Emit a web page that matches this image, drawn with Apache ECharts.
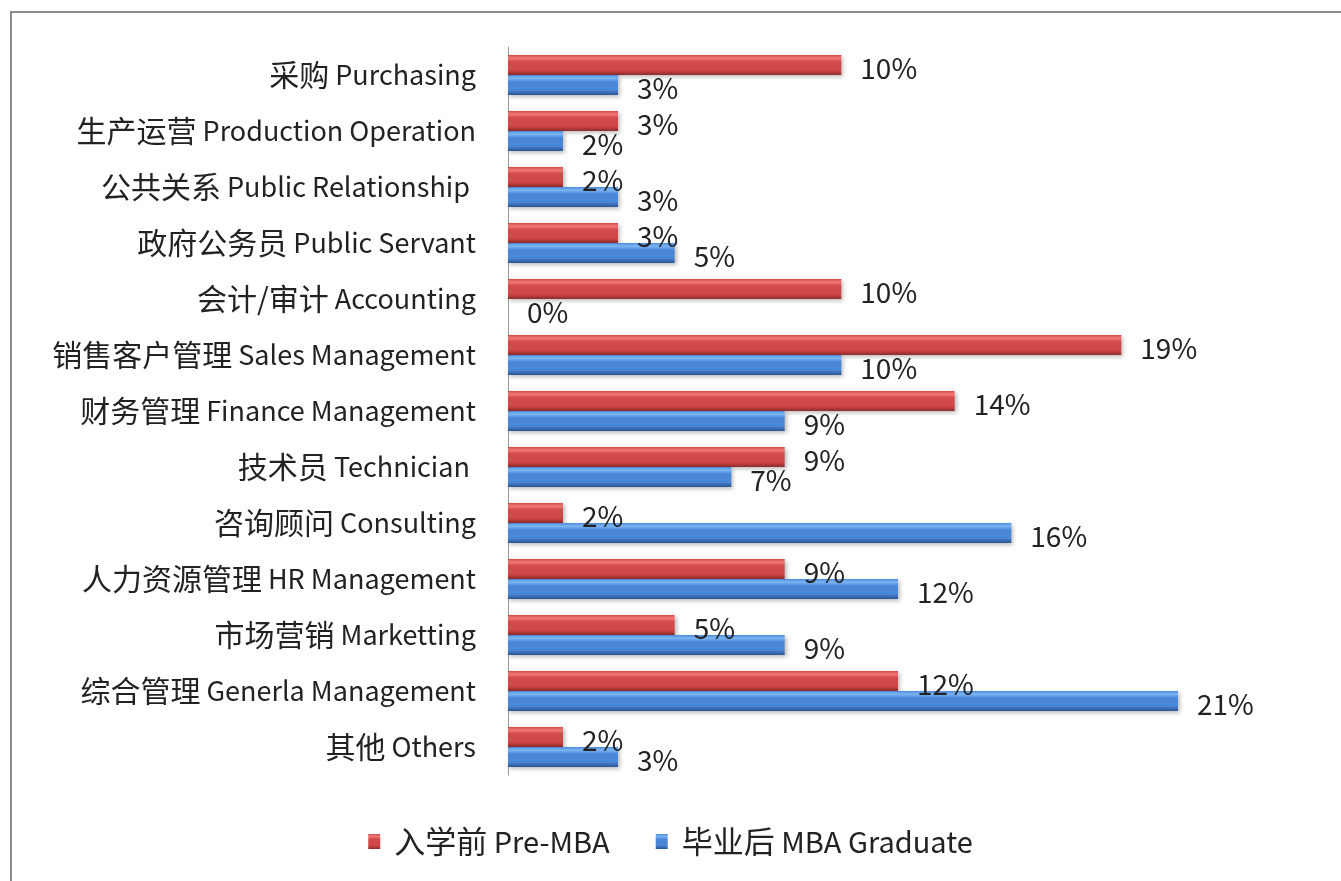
<!DOCTYPE html>
<html>
<head>
<meta charset="utf-8">
<script src="https://cdn.jsdelivr.net/npm/echarts@6/dist/echarts.min.js"></script>
<style>
    html, body { margin: 0; padding: 0; background: #fff; }
    .frame {
        position: absolute; left: 10px; top: 11px; width: 1340px; height: 880px;
        border-left: 2px solid #8a8a8a; border-top: 2px solid #8a8a8a;
        box-sizing: border-box;
    }
    #chart { width: 1341px; height: 881px; }
</style>
</head>
<body>
<div class="frame"></div>
<div id="chart"></div>
<script>
    var categories = [
        '采购 Purchasing',
        '生产运营 Production Operation',
        '公共关系 Public Relationship ',
        '政府公务员 Public Servant',
        '会计/审计 Accounting',
        '销售客户管理 Sales Management',
        '财务管理 Finance Management',
        '技术员 Technician ',
        '咨询顾问 Consulting',
        '人力资源管理 HR Management',
        '市场营销 Marketting',
        '综合管理 Generla Management',
        '其他 Others'
    ];
    // bar lengths (label text is kept apart, it is rounded)
    var preValues = [10.0, 3.3, 1.65, 3.3, 10.0, 18.4, 13.4, 8.3, 1.65, 8.3, 5.0, 11.7, 1.65];
    var postValues = [3.3, 1.65, 3.3, 5.0, 0, 10.0, 8.3, 6.7, 15.1, 11.7, 8.3, 20.1, 3.3];
    var preLabels = ['10%', '3%', '2%', '3%', '10%', '19%', '14%', '9%', '2%', '9%', '5%', '12%', '2%'];
    var postLabels = ['3%', '2%', '3%', '5%', '0%', '10%', '9%', '7%', '16%', '12%', '9%', '21%', '3%'];

    var font = '"Noto Sans CJK SC", "Noto Sans", sans-serif';

    function bevel(light, mid, dark) {
        return new echarts.graphic.LinearGradient(0, 0, 0, 1, [
            {offset: 0, color: mid},
            {offset: 0.15, color: light},
            {offset: 0.35, color: mid},
            {offset: 0.75, color: mid},
            {offset: 1, color: dark}
        ]);
    }
    var redFill = bevel('#ef7a7a', '#d34848', '#8f2a2a');
    var blueFill = bevel('#7db6f5', '#4a86d6', '#2b5590');

    // 中文部分和英文部分分开设字号
    function splitLabel(value) {
        var i = value.indexOf(' ');
        return '{cn|' + value.slice(0, i) + '}{en| ' + value.slice(i + 1) + '}';
    }

    var chart = echarts.init(document.getElementById('chart'));
    chart.setOption({
        backgroundColor: 'transparent',
        animation: false,
        grid: {
            left: 508,
            right: 33,
            top: 47,
            bottom: 106,
            containLabel: false
        },
        legend: {
            bottom: 19,
            left: 'center',
            itemWidth: 12,
            itemHeight: 15,
            itemGap: 46,
            icon: 'rect',
            formatter: function (name) {
                return '{pad|}' + splitLabel(name);
            },
            textStyle: {
                fontFamily: font,
                color: '#222',
                rich: {
                    pad: {width: 9},
                    cn: {fontFamily: font, fontSize: 31, color: '#222'},
                    en: {fontFamily: font, fontSize: 29, color: '#222'}
                }
            },
            data: [
                {name: '入学前 Pre-MBA', itemStyle: {color: redFill}},
                {name: '毕业后 MBA Graduate', itemStyle: {color: blueFill}}
            ]
        },
        xAxis: {
            type: 'value',
            min: 0,
            max: 24,
            show: false
        },
        yAxis: {
            type: 'category',
            inverse: true,
            data: categories,
            axisLine: {
                lineStyle: {color: '#9a9a9a', width: 1}
            },
            axisTick: {show: false},
            axisLabel: {
                margin: 32,
                formatter: splitLabel,
                rich: {
                    cn: {fontFamily: font, fontSize: 30, color: '#222'},
                    en: {fontFamily: font, fontSize: 27, color: '#222'}
                }
            }
        },
        series: [{
            name: '入学前 Pre-MBA',
            type: 'bar',
            barWidth: 20,
            barGap: '0%',
            data: preValues,
            itemStyle: {
                color: redFill,
                shadowColor: 'rgba(0,0,0,0.25)',
                shadowBlur: 4,
                shadowOffsetX: 2,
                shadowOffsetY: 2
            },
            label: {
                show: true,
                position: 'right',
                distance: 19,
                offset: [0, 3],
                fontFamily: font,
                fontSize: 28,
                color: '#222',
                formatter: function (p) { return preLabels[p.dataIndex]; }
            }
        }, {
            name: '毕业后 MBA Graduate',
            type: 'bar',
            barWidth: 20,
            barGap: '0%',
            data: postValues,
            itemStyle: {
                color: blueFill,
                shadowColor: 'rgba(0,0,0,0.25)',
                shadowBlur: 4,
                shadowOffsetX: 2,
                shadowOffsetY: 2
            },
            label: {
                show: true,
                position: 'right',
                distance: 19,
                offset: [0, 3],
                fontFamily: font,
                fontSize: 28,
                color: '#222',
                formatter: function (p) { return postLabels[p.dataIndex]; }
            }
        }]
    });
</script>
</body>
</html>
